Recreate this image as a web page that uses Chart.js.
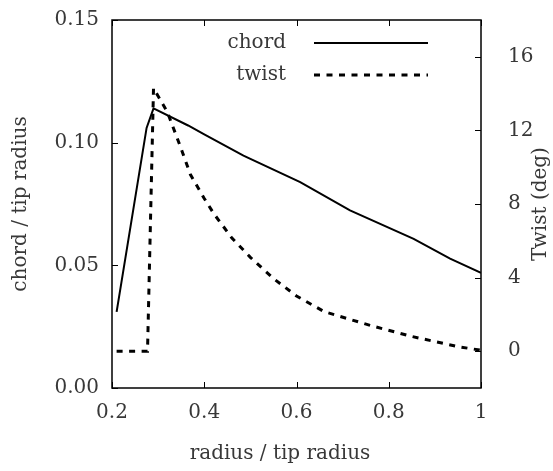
<!DOCTYPE html>
<html><head><meta charset="utf-8">
<script src="https://cdn.jsdelivr.net/npm/chart.js@4"></script>
<style>html,body{margin:0;padding:0;background:#fff}#wrap{width:553px;height:471px}</style>
</head><body><div id="wrap"><canvas id="c"></canvas></div>
<script>
const chordRadius = [0.21, 0.275, 0.29, 0.365, 0.40, 0.485, 0.608, 0.716, 0.854, 0.933, 1.0];
const chordValues = [0.031, 0.106, 0.114, 0.107, 0.1034, 0.0947, 0.0839, 0.0724, 0.0608, 0.0527, 0.0469];
const twistRadius = [0.21, 0.277, 0.29, 0.32, 0.35, 0.37, 0.40, 0.42, 0.46, 0.50, 0.55, 0.60, 0.66, 0.72, 0.76, 0.85, 0.95, 1.0];
const twistValues = [0, 0, 14.3, 13.0, 11.0, 9.6, 8.3, 7.5, 6.15, 5.1, 3.95, 3.0, 2.15, 1.7, 1.4, 0.8, 0.25, 0.05];
const xTicks = [0.2, 0.4, 0.6, 0.8, 1.0];
const xTickLabels = ["0.2", "0.4", "0.6", "0.8", "1"];
const chordTicks = [0, 0.05, 0.10, 0.15];
const chordTickLabels = ["0.00", "0.05", "0.10", "0.15"];
const twistTicks = [0, 4, 8, 12, 16];
const twistTickLabels = ["0", "4", "8", "12", "16"];
const seriesLabels = ["chord", "twist"];
const xTitle = "radius / tip radius";
const leftTitle = "chord / tip radius";
const rightTitle = "Twist (deg)";

const FONT = '"DejaVu Serif", "Liberation Serif", serif';
const FS = 20;
const TXT = '#383838';

function pts(xs, ys){ return xs.map((x,i)=>({x:x, y:ys[i]})); }

function zeroPad(s){ s.paddingTop = 0; s.paddingBottom = 0; s.paddingLeft = 0; s.paddingRight = 0; }

const deco = {
  id: 'deco',
  afterDatasetsDraw(chart){
    const ctx = chart.ctx, a = chart.chartArea;
    const sx = chart.scales.x, yl = chart.scales.y, yr = chart.scales.y2;
    ctx.save();
    ctx.strokeStyle = '#000';
    ctx.lineWidth = 1.5;
    ctx.strokeRect(a.left, a.top, a.right - a.left, a.bottom - a.top);
    ctx.lineWidth = 1;
    const T = 6;
    ctx.beginPath();
    xTicks.forEach(v=>{ const p = Math.round(sx.getPixelForValue(v))+0.5;
      ctx.moveTo(p, a.bottom); ctx.lineTo(p, a.bottom - T);
      ctx.moveTo(p, a.top); ctx.lineTo(p, a.top + T); });
    chordTicks.forEach(v=>{ const p = Math.round(yl.getPixelForValue(v))+0.5;
      ctx.moveTo(a.left, p); ctx.lineTo(a.left + T, p); });
    twistTicks.forEach(v=>{ const p = Math.round(yr.getPixelForValue(v))+0.5;
      ctx.moveTo(a.right, p); ctx.lineTo(a.right - T, p); });
    ctx.stroke();
    // legend
    ctx.font = FS + 'px ' + FONT;
    ctx.fillStyle = TXT;
    ctx.textAlign = 'right';
    ctx.textBaseline = 'middle';
    const rows = [43, 75];
    chart.data.datasets.forEach((ds, i)=>{
      ctx.fillText(ds.label, 286, rows[i]);
      ctx.save();
      ctx.strokeStyle = ds.borderColor;
      ctx.lineWidth = ds.borderWidth;
      ctx.setLineDash(ds.borderDash || []);
      ctx.beginPath(); ctx.moveTo(314, rows[i]); ctx.lineTo(428, rows[i]); ctx.stroke();
      ctx.restore();
    });
    // axis titles
    ctx.textAlign = 'center';
    ctx.fillText(xTitle, 280, 454);
    ctx.save(); ctx.translate(21, (a.top + a.bottom)/2); ctx.rotate(-Math.PI/2);
    ctx.fillText(leftTitle, 0, 0); ctx.restore();
    ctx.save(); ctx.translate(541, (a.top + a.bottom)/2); ctx.rotate(-Math.PI/2);
    ctx.fillText(rightTitle, 0, 0); ctx.restore();
    ctx.restore();
  }
};

new Chart(document.getElementById('c'), {
  type: 'scatter',
  data: { datasets: [
    { label: seriesLabels[0], data: pts(chordRadius, chordValues), yAxisID: 'y', showLine: true,
      borderColor: '#000', borderWidth: 2, pointRadius: 0, tension: 0 },
    { label: seriesLabels[1], data: pts(twistRadius, twistValues), yAxisID: 'y2', showLine: true,
      borderColor: '#000', borderWidth: 3, borderDash: [6, 6.5], pointRadius: 0, tension: 0 }
  ]},
  options: {
    responsive: true, maintainAspectRatio: false, animation: false,
    layout: { padding: { top: 20, left: 0, right: 0, bottom: 0 } },
    plugins: { legend: { display: false }, tooltip: { enabled: false } },
    scales: {
      x: { type: 'linear', min: 0.2, max: 1.0, position: 'bottom',
        afterFit: s => { s.height = 83; zeroPad(s); },
        afterBuildTicks: s => { s.ticks = xTicks.map(v=>({value:v})); },
        grid: { display: false, drawTicks: false }, border: { display: false },
        ticks: { padding: 13, color: TXT, font: { family: FONT, size: FS },
          callback: (v) => xTickLabels[xTicks.findIndex(t=>Math.abs(t-v)<1e-9)] } },
      y: { type: 'linear', min: 0, max: 0.15, position: 'left',
        afterFit: s => { s.width = 112; zeroPad(s); },
        afterBuildTicks: s => { s.ticks = chordTicks.map(v=>({value:v})); },
        grid: { display: false, drawTicks: false }, border: { display: false },
        ticks: { padding: 13, color: TXT, font: { family: FONT, size: FS },
          callback: (v) => chordTickLabels[chordTicks.findIndex(t=>Math.abs(t-v)<1e-9)] } },
      y2: { type: 'linear', min: -2, max: 18, position: 'right',
        afterFit: s => { s.width = 72; zeroPad(s); },
        afterBuildTicks: s => { s.ticks = twistTicks.map(v=>({value:v})); },
        grid: { display: false, drawTicks: false }, border: { display: false },
        ticks: { padding: 27, color: TXT, font: { family: FONT, size: FS },
          callback: (v) => twistTickLabels[twistTicks.findIndex(t=>Math.abs(t-v)<1e-9)] } }
    }
  },
  plugins: [deco]
});
</script></body></html>
